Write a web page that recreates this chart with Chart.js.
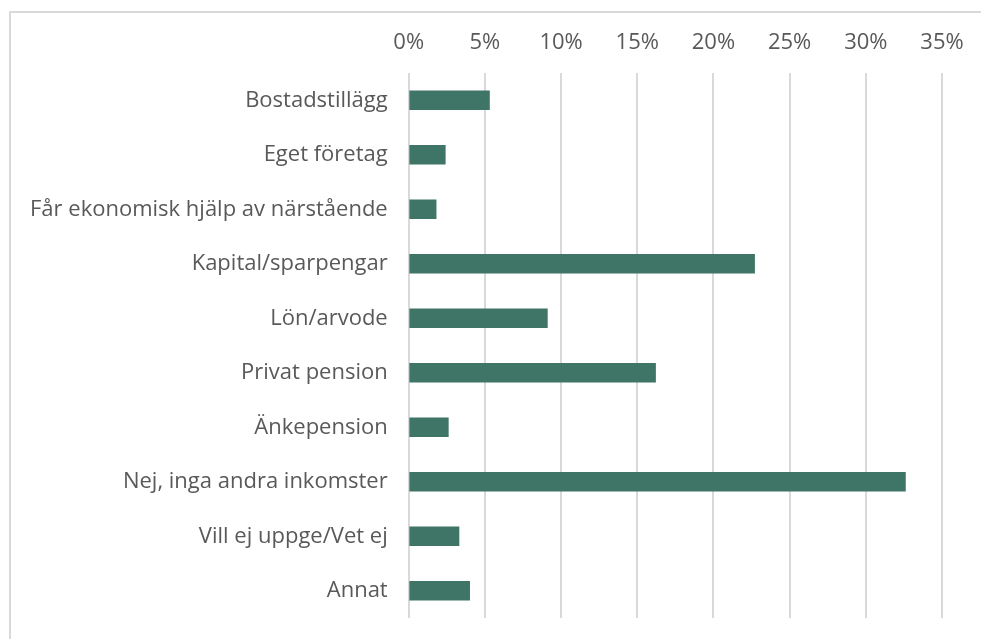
<!DOCTYPE html>
<html>
<head>
<meta charset="utf-8">
<script src="https://cdn.jsdelivr.net/npm/chart.js@4/dist/chart.umd.min.js"></script>
<style>
  html, body { margin: 0; padding: 0; background: #fff; }
  body { width: 981px; height: 639px; overflow: hidden; position: relative; }
  /* chart area frame — only top and left edges are visible in the crop */
  #frame {
    position: absolute; left: 9px; top: 11px;
    width: 970px; height: 626px;
    border-top: 2px solid #d9d9d9; border-left: 2px solid #d9d9d9;
  }
  #chart { display: block; }
</style>
</head>
<body>
<div id="frame"><canvas id="chart" width="970" height="626"></canvas></div>
<script>
// ── data ──
const categories = [
  'Bostadstillägg',
  'Eget företag',
  'Får ekonomisk hjälp av närstående',
  'Kapital/sparpengar',
  'Lön/arvode',
  'Privat pension',
  'Änkepension',
  'Nej, inga andra inkomster',
  'Vill ej uppge/Vet ej',
  'Annat',
];
const shares = [5.3, 2.4, 1.8, 22.7, 9.1, 16.2, 2.6, 32.6, 3.3, 4.0];
const tickValues = [0, 5, 10, 15, 20, 25, 30, 35];

const TEXT = '#595959';
const GRID = '#d9d9d9';
const BAR = '#3f7566';
const FONT = { family: "'Open Sans', 'Liberation Sans', sans-serif", size: 22 };

new Chart(document.getElementById('chart'), {
  type: 'bar',
  data: {
    labels: categories,
    datasets: [{
      data: shares,
      backgroundColor: BAR,
      borderWidth: 0,
      barThickness: 19,
    }],
  },
  options: {
    indexAxis: 'y',
    responsive: false,
    animation: false,
    layout: { padding: { top: 0, right: 39, bottom: 21, left: 0 } },
    plugins: { legend: { display: false }, tooltip: { enabled: false } },
    scales: {
      x: {
        position: 'top',
        min: 0,
        max: 35,
        afterBuildTicks: (s) => { s.ticks = tickValues.map((v) => ({ value: v })); },
        afterFit: (s) => { s.height = 60; },
        grid: { color: GRID, lineWidth: 2, drawTicks: false },
        border: { display: false },
        ticks: {
          color: TEXT,
          font: FONT,
          padding: 17,
          callback: (v) => v + '%',
        },
      },
      y: {
        // fixed label column; ignore the label overflow at the bottom
        afterFit: (s) => { s.width = 397.7; s.paddingTop = 0; s.paddingBottom = 0; },
        grid: { display: false },
        border: { display: false },
        ticks: { color: TEXT, font: FONT, padding: 13 },
      },
    },
  },
});
</script>
</body>
</html>
